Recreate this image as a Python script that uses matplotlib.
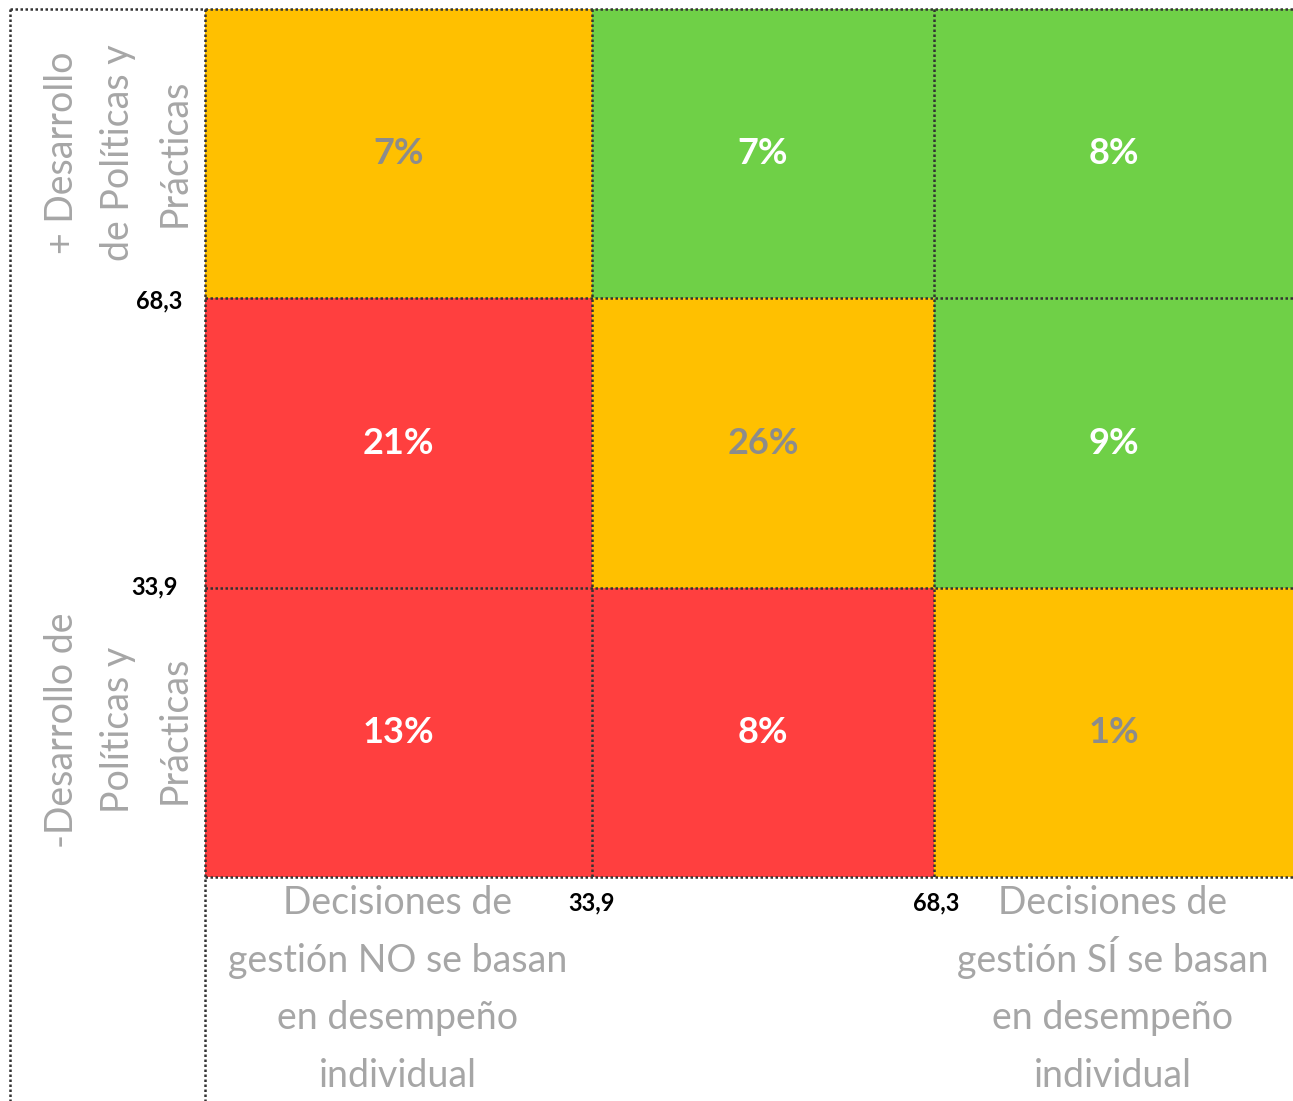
import matplotlib
matplotlib.use("Agg")
import matplotlib.pyplot as plt
from matplotlib.patches import Rectangle
from matplotlib.lines import Line2D

# ---- data ----
row_labels = ["+ Desarrollo\nde Políticas y\nPrácticas", None, "-Desarrollo de\nPolíticas y\nPrácticas"]
col_labels = ["Decisiones de\ngestión NO se basan\nen desempeño\nindividual", None,
              "Decisiones de\ngestión SÍ se basan\nen desempeño\nindividual"]
values = [[7, 7, 8],
          [21, 26, 9],
          [13, 8, 1]]
categories = [["mid", "high", "high"],
              ["low", "mid", "high"],
              ["low", "low", "mid"]]
thresholds = ["33,9", "68,3"]

# ---- style ----
W, H = 1293, 1101
colors = {"low": "#FF3F3F", "mid": "#FFC000", "high": "#6FD047"}
txtcol = {"low": "white", "mid": "#8C8C8C", "high": "white"}
FONT = "Lato"
gray = "#A6A6A6"

fig = plt.figure(figsize=(W / 100, H / 100), dpi=100)
fig.patch.set_facecolor("white")

base = fig.add_axes([0, 0, 1, 1])
base.set_xlim(0, W)
base.set_ylim(H, 0)
base.axis("off")

gx0, gx1 = 205, 1293
gy0, gy1 = 9, 877
col_edges = [205, 592, 934, 1293]
row_edges = [9, 298, 588, 877]

for i in range(3):
    for j in range(3):
        x0, x1 = col_edges[j], col_edges[j + 1]
        y0, y1 = row_edges[i], row_edges[i + 1]
        cat = categories[i][j]
        base.add_patch(Rectangle((x0, y0), x1 - x0, y1 - y0, facecolor=colors[cat],
                                 edgecolor="none", zorder=1))
        base.text((x0 + x1) / 2, (y0 + y1) / 2, f"{values[i][j]}%", ha="center", va="center",
                  fontsize=26, fontweight="bold", color=txtcol[cat], family=FONT, zorder=3)

ls = (0, (1.0, 1.0))
lc = "#333333"
lw = 1.8
def dl(xs, ys):
    base.add_line(Line2D(xs, ys, color=lc, lw=lw, linestyle=ls, zorder=2))

dl([10, 10], [9, H])
dl([205, 205], [9, H])
dl([10, W], [9, 9])
for y in row_edges[1:]:
    dl([gx0, gx1], [y, y])
for x in col_edges[1:-1]:
    dl([x, x], [gy0, gy1])

lab = dict(fontsize=27, color=gray, family=FONT, linespacing=1.7,
           ha="center", va="center", multialignment="center")
base.text(118, 153, row_labels[0], rotation=90, **lab)
base.text(118, 730, row_labels[2], rotation=90, **lab)

baselines = [914, 972, 1029, 1087]
for xc, label in ((398, col_labels[0]), (1113, col_labels[2])):
    for yb, line in zip(baselines, label.split("\n")):
        base.text(xc, yb, line, fontsize=27, color=gray, family=FONT, ha="center", va="baseline")

tk = dict(fontsize=17, fontweight="bold", color="black", family=FONT, ha="center", va="center")
base.text(159, 301, thresholds[1], **tk)
base.text(155, 587, thresholds[0], **tk)
base.text(592, 903, thresholds[0], **tk)
base.text(936, 903, thresholds[1], **tk)

fig.savefig("out.png", dpi=100, facecolor="white")
